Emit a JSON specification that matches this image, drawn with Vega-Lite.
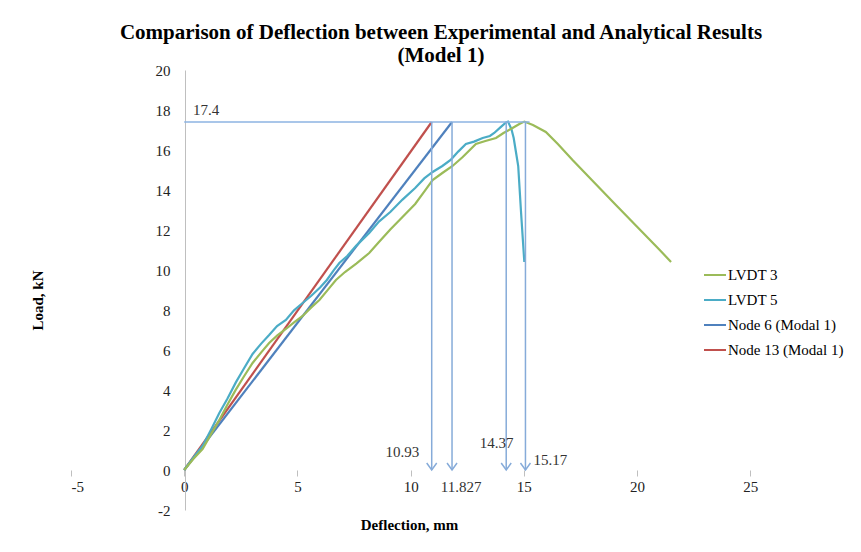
{
  "$schema": "https://vega.github.io/schema/vega-lite/v6.json",
  "width": 788,
  "height": 440,
  "autosize": "none",
  "padding": {"left": 71, "top": 70, "right": 2, "bottom": 42},
  "background": "white",
  "config": {
    "view": {"stroke": null},
    "font": "Liberation Serif"
  },
  "title": {
    "text": ["Comparison of Deflection between Experimental and Analytical Results", "(Model 1)"],
    "font": "Liberation Serif",
    "fontSize": 21,
    "fontWeight": "bold",
    "lineHeight": 23,
    "color": "#000000",
    "anchor": "middle",
    "frame": "group",
    "dx": -24,
    "dy": 9,
    "offset": 6
  },
  "datasets": {
    "curves": [
      {"series": "Node 13 (Modal 1)", "d": 0, "load": 0},
      {"series": "Node 13 (Modal 1)", "d": 10.93, "load": 17.4},
      {"series": "Node 6 (Modal 1)", "d": 0, "load": 0},
      {"series": "Node 6 (Modal 1)", "d": 11.827, "load": 17.4},
      {"series": "LVDT 5", "d": 0, "load": 0},
      {"series": "LVDT 5", "d": 0.4, "load": 0.62},
      {"series": "LVDT 5", "d": 0.81, "load": 1.2},
      {"series": "LVDT 5", "d": 1.2, "load": 2.05},
      {"series": "LVDT 5", "d": 1.55, "load": 2.85},
      {"series": "LVDT 5", "d": 1.9, "load": 3.55},
      {"series": "LVDT 5", "d": 2.28, "load": 4.38},
      {"series": "LVDT 5", "d": 2.65, "load": 5.1},
      {"series": "LVDT 5", "d": 3.02, "load": 5.8},
      {"series": "LVDT 5", "d": 3.4, "load": 6.32},
      {"series": "LVDT 5", "d": 3.75, "load": 6.75},
      {"series": "LVDT 5", "d": 4.1, "load": 7.2},
      {"series": "LVDT 5", "d": 4.49, "load": 7.5},
      {"series": "LVDT 5", "d": 4.85, "load": 7.98},
      {"series": "LVDT 5", "d": 5.23, "load": 8.35},
      {"series": "LVDT 5", "d": 5.6, "load": 8.7},
      {"series": "LVDT 5", "d": 6.0, "load": 9.12},
      {"series": "LVDT 5", "d": 6.3, "load": 9.5},
      {"series": "LVDT 5", "d": 6.6, "load": 9.98},
      {"series": "LVDT 5", "d": 6.85, "load": 10.35},
      {"series": "LVDT 5", "d": 7.2, "load": 10.7},
      {"series": "LVDT 5", "d": 7.6, "load": 11.22},
      {"series": "LVDT 5", "d": 8.17, "load": 11.85},
      {"series": "LVDT 5", "d": 8.6, "load": 12.42},
      {"series": "LVDT 5", "d": 9.1, "load": 12.9},
      {"series": "LVDT 5", "d": 9.64, "load": 13.52},
      {"series": "LVDT 5", "d": 10.2, "load": 14.1},
      {"series": "LVDT 5", "d": 10.6, "load": 14.58},
      {"series": "LVDT 5", "d": 10.97, "load": 14.9},
      {"series": "LVDT 5", "d": 11.4, "load": 15.2},
      {"series": "LVDT 5", "d": 11.78, "load": 15.52},
      {"series": "LVDT 5", "d": 12.1, "load": 15.92},
      {"series": "LVDT 5", "d": 12.44, "load": 16.3},
      {"series": "LVDT 5", "d": 12.8, "load": 16.42},
      {"series": "LVDT 5", "d": 13.18, "load": 16.6},
      {"series": "LVDT 5", "d": 13.5, "load": 16.7},
      {"series": "LVDT 5", "d": 13.69, "load": 16.85},
      {"series": "LVDT 5", "d": 13.95, "load": 17.12},
      {"series": "LVDT 5", "d": 14.21, "load": 17.38},
      {"series": "LVDT 5", "d": 14.3, "load": 17.42},
      {"series": "LVDT 5", "d": 14.45, "load": 17.05},
      {"series": "LVDT 5", "d": 14.55, "load": 16.6},
      {"series": "LVDT 5", "d": 14.65, "load": 15.9},
      {"series": "LVDT 5", "d": 14.75, "load": 15.2},
      {"series": "LVDT 5", "d": 14.88, "load": 12.8},
      {"series": "LVDT 5", "d": 15.02, "load": 10.4},
      {"series": "LVDT 3", "d": 0, "load": 0},
      {"series": "LVDT 3", "d": 0.4, "load": 0.55},
      {"series": "LVDT 3", "d": 0.81, "load": 1.05},
      {"series": "LVDT 3", "d": 1.2, "load": 1.82},
      {"series": "LVDT 3", "d": 1.55, "load": 2.5},
      {"series": "LVDT 3", "d": 1.9, "load": 3.25},
      {"series": "LVDT 3", "d": 2.28, "load": 4.02},
      {"series": "LVDT 3", "d": 2.65, "load": 4.7},
      {"series": "LVDT 3", "d": 3.02, "load": 5.35},
      {"series": "LVDT 3", "d": 3.4, "load": 5.88},
      {"series": "LVDT 3", "d": 3.75, "load": 6.35},
      {"series": "LVDT 3", "d": 4.1, "load": 6.72},
      {"series": "LVDT 3", "d": 4.49, "load": 7.05},
      {"series": "LVDT 3", "d": 4.85, "load": 7.38},
      {"series": "LVDT 3", "d": 5.23, "load": 7.7},
      {"series": "LVDT 3", "d": 5.6, "load": 8.12},
      {"series": "LVDT 3", "d": 5.97, "load": 8.5},
      {"series": "LVDT 3", "d": 6.35, "load": 9.02},
      {"series": "LVDT 3", "d": 6.7, "load": 9.5},
      {"series": "LVDT 3", "d": 7.1, "load": 9.9},
      {"series": "LVDT 3", "d": 7.6, "load": 10.32},
      {"series": "LVDT 3", "d": 8.17, "load": 10.85},
      {"series": "LVDT 3", "d": 8.6, "load": 11.4},
      {"series": "LVDT 3", "d": 9.1, "load": 12.02},
      {"series": "LVDT 3", "d": 9.64, "load": 12.65},
      {"series": "LVDT 3", "d": 10.2, "load": 13.3},
      {"series": "LVDT 3", "d": 10.6, "load": 13.92},
      {"series": "LVDT 3", "d": 10.97, "load": 14.5},
      {"series": "LVDT 3", "d": 11.4, "load": 14.85},
      {"series": "LVDT 3", "d": 11.85, "load": 15.2},
      {"series": "LVDT 3", "d": 12.3, "load": 15.65},
      {"series": "LVDT 3", "d": 12.88, "load": 16.3},
      {"series": "LVDT 3", "d": 13.3, "load": 16.45},
      {"series": "LVDT 3", "d": 13.77, "load": 16.6},
      {"series": "LVDT 3", "d": 14.1, "load": 16.85},
      {"series": "LVDT 3", "d": 14.5, "load": 17.1},
      {"series": "LVDT 3", "d": 14.8, "load": 17.3},
      {"series": "LVDT 3", "d": 15.02, "load": 17.42},
      {"series": "LVDT 3", "d": 15.4, "load": 17.25},
      {"series": "LVDT 3", "d": 15.97, "load": 16.9},
      {"series": "LVDT 3", "d": 16.5, "load": 16.3},
      {"series": "LVDT 3", "d": 17.15, "load": 15.5},
      {"series": "LVDT 3", "d": 18.0, "load": 14.5},
      {"series": "LVDT 3", "d": 19.0, "load": 13.33},
      {"series": "LVDT 3", "d": 20.0, "load": 12.16},
      {"series": "LVDT 3", "d": 21.0, "load": 11.0},
      {"series": "LVDT 3", "d": 21.5, "load": 10.4}
    ],
    "hline": [{"d": 0, "d2": 15.25, "load": 17.4}],
    "arrows": [
      {"d": 10.93, "top": 17.4, "bottom": 0},
      {"d": 11.827, "top": 17.4, "bottom": 0},
      {"d": 14.22, "top": 17.4, "bottom": 0},
      {"d": 15.07, "top": 17.4, "bottom": 0}
    ],
    "labels": [
      {"d": 0.97, "load": 18.0, "text": "17.4"},
      {"d": 9.63, "load": 0.9, "text": "10.93"},
      {"d": 12.23, "load": -0.85, "text": "11.827"},
      {"d": 13.8, "load": 1.35, "text": "14.37"},
      {"d": 16.17, "load": 0.5, "text": "15.17"}
    ]
  },
  "layer": [
    {
      "data": {"name": "curves"},
      "mark": {"type": "line", "strokeWidth": 2.2},
      "encoding": {
        "x": {
          "field": "d", "type": "quantitative",
          "scale": {"domain": [-5, 29.8], "nice": false, "zero": false},
          "axis": {
            "title": "Deflection, mm",
            "titleFont": "Liberation Serif", "titleFontSize": 15, "titleFontWeight": "bold", "titleColor": "#000000",
            "titleX": 338, "titleY": 54, "titleAlign": "center", "titleBaseline": "middle", "titleAnchor": null,
            "offset": -40,
            "values": [-5, 0, 5, 10, 15, 20, 25],
            "tickCount": 40,
            "labelExpr": "datum.value < 0 ? '-' + (-datum.value) : '' + datum.value",
            "labelOverlap": false,
            "domain": false,
            "grid": false,
            "ticks": true, "tickSize": 6, "tickColor": "#bfbfbf", "tickWidth": 1,
            "labelFont": "Liberation Serif", "labelFontSize": 15, "labelColor": "#222222", "labelPadding": 3
          }
        },
        "y": {
          "field": "load", "type": "quantitative",
          "scale": {"domain": [-2, 20], "nice": false, "zero": false},
          "axis": {
            "title": "Load, kN",
            "titleFont": "Liberation Serif", "titleFontSize": 15, "titleFontWeight": "bold", "titleColor": "#000000",
            "titleX": -148, "titleY": 230, "titleAngle": 270, "titleAlign": "center", "titleBaseline": "middle", "titleAnchor": null,
            "offset": -114,
            "values": [-2, 0, 2, 4, 6, 8, 10, 12, 14, 16, 18, 20],
            "tickCount": 40,
            "labelExpr": "datum.value < 0 ? '-' + (-datum.value) : '' + datum.value",
            "labelOverlap": false,
            "domain": true, "domainColor": "#bfbfbf", "domainWidth": 1,
            "grid": false,
            "ticks": false,
            "labelFont": "Liberation Serif", "labelFontSize": 15, "labelColor": "#222222", "labelPadding": 15
          }
        },
        "color": {
          "field": "series", "type": "nominal",
          "scale": {
            "domain": ["LVDT 3", "LVDT 5", "Node 6 (Modal 1)", "Node 13 (Modal 1)"],
            "range": ["#9bbb59", "#4bacc6", "#4f81bd", "#c0504d"]
          },
          "legend": {
            "title": null,
            "orient": "none",
            "legendX": 632,
            "legendY": 193,
            "symbolType": "stroke",
            "symbolSize": 484,
            "symbolStrokeWidth": 2,
            "labelFont": "Liberation Serif",
            "labelFontSize": 15,
            "labelColor": "#000000",
            "labelOffset": 1,
            "rowPadding": 5,
            "labelLimit": 300
          }
        }
      }
    },
    {
      "data": {"name": "hline"},
      "mark": {"type": "rule", "color": "#8db3e2", "strokeWidth": 1.5},
      "encoding": {
        "x": {"field": "d", "type": "quantitative"},
        "x2": {"field": "d2"},
        "y": {"field": "load", "type": "quantitative"}
      }
    },
    {
      "data": {"name": "arrows"},
      "mark": {"type": "rule", "color": "#86abd9", "strokeWidth": 1.5},
      "encoding": {
        "x": {"field": "d", "type": "quantitative"},
        "y": {"field": "top", "type": "quantitative"},
        "y2": {"field": "bottom"}
      }
    },
    {
      "data": {"name": "arrows"},
      "mark": {"type": "point", "shape": "M-1,-1.4L0,0L1,-1.4", "size": 100, "filled": false, "stroke": "#86abd9", "strokeWidth": 1.5, "opacity": 1},
      "encoding": {
        "x": {"field": "d", "type": "quantitative"},
        "y": {"field": "bottom", "type": "quantitative"}
      }
    },
    {
      "data": {"name": "labels"},
      "mark": {"type": "text", "font": "Liberation Serif", "fontSize": 15, "color": "#333333", "align": "center", "baseline": "middle"},
      "encoding": {
        "x": {"field": "d", "type": "quantitative"},
        "y": {"field": "load", "type": "quantitative"},
        "text": {"field": "text", "type": "nominal"}
      }
    }
  ]
}
